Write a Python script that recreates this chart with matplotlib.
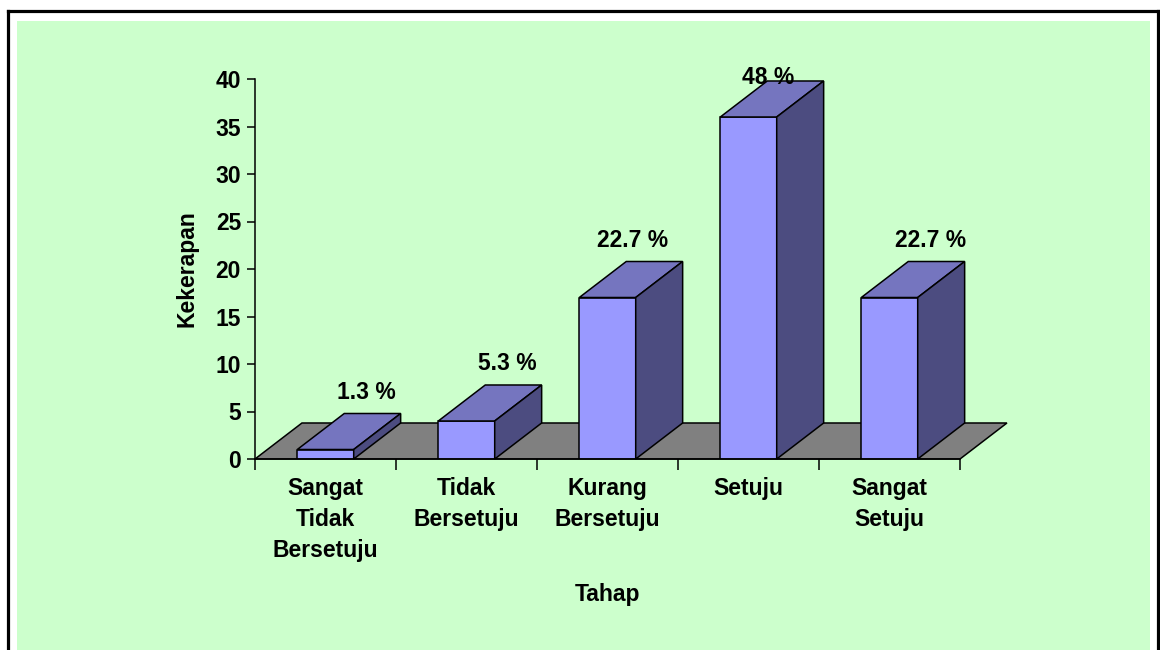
import matplotlib.pyplot as plt
from matplotlib.patches import Polygon, Rectangle
from matplotlib.lines import Line2D

plt.rcParams['font.family'] = ['Liberation Sans', 'DejaVu Sans']
plt.rcParams['font.weight'] = 'bold'

# Frequencies per response level (n = 75)
categories = ["Sangat\nTidak\nBersetuju", "Tidak\nBersetuju", "Kurang\nBersetuju",
              "Setuju", "Sangat\nSetuju"]
freq = [1, 4, 17, 36, 17]
total = 75
pct = [round(f / total * 100, 1) for f in freq]

front_c = "#9999FF"
top_c = "#7575BF"
side_c = "#4C4C80"
floor_c = "#808080"
fs = 16.5

fig = plt.figure(figsize=(11.6, 6.5), dpi=100)

# green panel and black frame
fig.patches.append(Rectangle((17 / 1160, 0), 1133 / 1160, 629 / 650,
                             transform=fig.transFigure, facecolor="#CCFFCC",
                             edgecolor="none", zorder=-5))
for xs, ys in [([7.5, 7.5], [0, 639]), ([7.5, 1158], [639, 639]), ([1158, 1158], [0, 639])]:
    fig.lines.append(Line2D([x / 1160 for x in xs], [y / 650 for y in ys],
                            transform=fig.transFigure, color="black", lw=2.3, zorder=-4))

ax = fig.add_axes([255 / 1160, 191 / 650, 705 / 1160, 380 / 650])
ax.set_facecolor("none")
ax.set_xlim(0, 5)
ax.set_ylim(0, 40)

# depth offset of the pseudo-3D boxes, in data units
ddx, ddy = 0.333, 3.79
bw = 0.4

floor = Polygon([(0, 0), (5, 0), (5 + ddx, ddy), (ddx, ddy)], closed=True,
                facecolor=floor_c, edgecolor="black", lw=1.1, clip_on=False, zorder=1)
ax.add_patch(floor)

label_shift = [0.29, 0.29, 0.18, 0.14, 0.29]
for i, (f, p) in enumerate(zip(freq, pct)):
    xc = i + 0.5
    x0, x1 = xc - bw / 2, xc + bw / 2
    ax.bar(xc, f, width=bw, color=front_c, edgecolor="black", lw=1.1, zorder=3)
    top = Polygon([(x0, f), (x1, f), (x1 + ddx, f + ddy), (x0 + ddx, f + ddy)],
                  closed=True, facecolor=top_c, edgecolor="black", lw=1.1,
                  clip_on=False, zorder=3)
    side = Polygon([(x1, 0), (x1 + ddx, ddy), (x1 + ddx, f + ddy), (x1, f)],
                   closed=True, facecolor=side_c, edgecolor="black", lw=1.1,
                   clip_on=False, zorder=3)
    ax.add_patch(top)
    ax.add_patch(side)
    ly = min(f + ddy + 2.26, 40.2)
    ax.text(xc + label_shift[i], ly, f"{p:g} %", ha="center", va="center",
            fontsize=fs, fontweight="bold", zorder=5, clip_on=False)

for s in ["top", "right"]:
    ax.spines[s].set_visible(False)
for s in ["left", "bottom"]:
    ax.spines[s].set_linewidth(1.1)
    ax.spines[s].set_zorder(4)

ax.set_yticks(range(0, 41, 5))
ax.tick_params(axis="y", length=6, width=1.1, pad=4, labelsize=fs)
ax.set_xticks(range(0, 6))
ax.set_xticklabels([])
ax.tick_params(axis="x", which="major", length=8, width=1.1)
ax.set_xticks([i + 0.5 for i in range(5)], minor=True)
ax.set_xticklabels(categories, minor=True, fontsize=fs, fontweight="bold", linespacing=1.45)
ax.tick_params(axis="x", which="minor", length=0, pad=13)
for t in ax.get_yticklabels():
    t.set_fontweight("bold")

ax.set_ylabel("Kekerapan", fontsize=fs, fontweight="bold", labelpad=12)
ax.set_xlabel("Tahap", fontsize=fs, fontweight="bold", labelpad=15)

fig.savefig("out.png", dpi=100)
